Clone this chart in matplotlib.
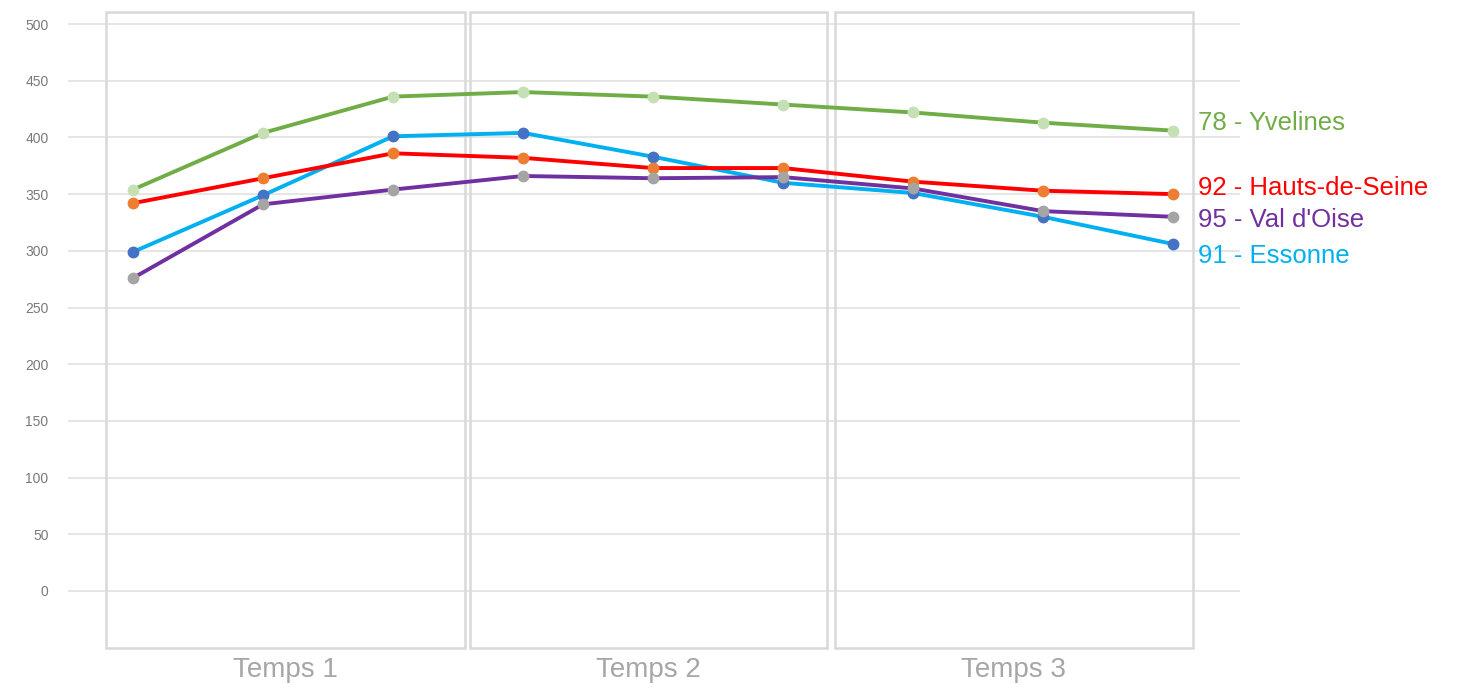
import matplotlib.pyplot as plt
from matplotlib.patches import Rectangle

plt.rcParams['font.family'] = ['Liberation Sans', 'DejaVu Sans']

# 3 temps x 3 mesures
x = list(range(9))
periods = ['Temps 1', 'Temps 2', 'Temps 3']
yvelines = [354, 404, 436, 440, 436, 429, 422, 413, 406]
hauts_de_seine = [342, 364, 386, 382, 373, 373, 361, 353, 350]
val_doise = [276, 341, 354, 366, 364, 365, 355, 335, 330]
essonne = [299, 349, 401, 404, 383, 360, 351, 330, 306]

# (name, values, line colour, marker colour, label y)
series = [
    ('91 - Essonne', essonne, '#00B0F0', '#4472C4', 295),
    ('92 - Hauts-de-Seine', hauts_de_seine, '#FF0000', '#ED7D31', 355),
    ('95 - Val d\'Oise', val_doise, '#7030A0', '#A5A5A5', 327),
    ('78 - Yvelines', yvelines, '#70AD47', '#C5E0B4', 413),
]

fig = plt.figure(figsize=(14.63, 6.91), dpi=100)
ax = fig.add_axes([0.0465, 0.0622, 0.8011, 0.9204])
ax.set_xlim(-0.5, 8.515)
ax.set_ylim(-50.3, 510.6)

for name, vals, lc, mc, ly in series:
    ax.plot(x, vals, color=lc, lw=2.8, marker='o', ms=7.5,
            markerfacecolor=mc, markeredgecolor=mc, zorder=3)
    ax.text(8.19, ly, name, color=lc, fontsize=18.5, va='center',
            ha='left', clip_on=False)

# panel boxes, one per temps
panels = [(-0.21, 2.55), (2.59, 5.34), (5.40, 8.15)]
for (x0, x1), lab in zip(panels, periods):
    ax.add_patch(Rectangle((x0, -50.3), x1 - x0, 560.9, fill=False,
                           edgecolor='#D9D9D9', lw=1.8, zorder=2,
                           clip_on=False))
    ax.text((x0 + x1) / 2, -58, lab, ha='center', va='top',
            fontsize=20, color='#A6A6A6')

ax.set_yticks(range(0, 501, 50))
ax.set_xticks([])
ax.grid(axis='y', color='#E6E6E6', lw=1.4, zorder=1)
ax.tick_params(axis='y', length=0, pad=14, labelsize=10,
               labelcolor='#7A7A7A')
for s in ax.spines.values():
    s.set_visible(False)

fig.savefig('out.png', dpi=100, facecolor='white')
